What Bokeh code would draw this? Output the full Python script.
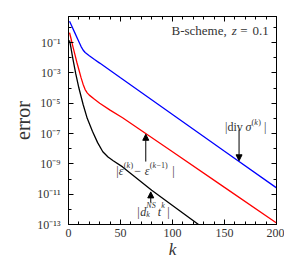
from bokeh.plotting import figure
from bokeh.models import (Label, Arrow, NormalHead, FixedTicker, LogAxis, LinearAxis,
                          CustomJSTickFormatter, Range1d)
from bokeh.embed import file_html
from bokeh.resources import INLINE

# ---- data ----
k_blue = [1, 3, 6, 9, 12, 14, 16, 20, 25, 30, 50, 100, 150, 200]
err_blue = [2.5e0, 1.26e0, 4.5e-1, 1.6e-1, 5.6e-2, 3.2e-2, 2.2e-2, 1.35e-2,
            7.6e-3, 4.4e-3, 4.7e-4, 1.8e-6, 6.8e-9, 2.6e-11]

k_red = [1, 2, 4, 6, 8, 10, 12, 14, 16, 18, 20, 25, 30, 40, 52, 100, 150, 200]
err_red = [4.5e-1, 2.4e-1, 6.3e-2, 1.8e-2, 5.0e-3, 1.6e-3, 5.0e-4, 1.8e-4, 7.9e-5,
           4.8e-5, 3.4e-5, 1.8e-5, 1.0e-5, 3.5e-6, 1.1e-6, 6.3e-9, 2.8e-11, 1.26e-13]

k_black = [1, 2, 4, 7, 10, 14, 18, 23, 28, 33, 38, 43, 52, 80, 100, 126]
err_black = [1.4e-1, 6.3e-2, 1.0e-2, 8.5e-4, 1.0e-4, 8.5e-6, 1.0e-6, 1.4e-7, 2.5e-8,
             6.3e-9, 2.8e-9, 1.6e-9, 6.3e-10, 1.8e-11, 1.8e-12, 8.9e-14]

x_major = [0, 50, 100, 150, 200]
x_minor = [10, 20, 30, 40, 60, 70, 80, 90, 110, 120, 130, 140, 160, 170, 180, 190]
y_major = [1e-1, 1e-3, 1e-5, 1e-7, 1e-9, 1e-11, 1e-13]
y_minor = [1e0, 1e-2, 1e-4, 1e-6, 1e-8, 1e-10, 1e-12]

FONT = "Liberation Serif"
TXT = "#333333"

p = figure(frame_width=208, frame_height=208, y_axis_type="log",
           x_range=Range1d(0, 200), y_range=Range1d(1e-13, 5.2),
           output_backend="svg", toolbar_location=None,
           min_border_left=68, min_border_right=8, min_border_top=16, min_border_bottom=38)
p.grid.visible = False
p.outline_line_color = "black"
p.outline_line_width = 1
p.background_fill_color = "white"
p.border_fill_color = "white"

p.line(k_blue, err_blue, line_color="#0000ff", line_width=1.3)
p.line(k_red, err_red, line_color="#ff0000", line_width=1.3)
p.line(k_black, err_black, line_color="black", line_width=1.3)

xt = FixedTicker(ticks=x_major, minor_ticks=x_minor)
yt = FixedTicker(ticks=y_major, minor_ticks=y_minor)

fmt_code = """
const e = Math.round(Math.log10(tick));
const m = {'-':'\\u207b','0':'\\u2070','1':'\\u00b9','2':'\\u00b2','3':'\\u00b3','4':'\\u2074',
           '5':'\\u2075','6':'\\u2076','7':'\\u2077','8':'\\u2078','9':'\\u2079'};
return '10' + String(e).split('').map(c => m[c]).join('');
"""


def style(ax):
    ax.axis_line_color = "black"
    ax.major_tick_in = 5
    ax.major_tick_out = 0
    ax.minor_tick_in = 3
    ax.minor_tick_out = 0
    ax.major_tick_line_color = "black"
    ax.minor_tick_line_color = "black"
    ax.major_label_text_font = FONT
    ax.major_label_text_font_size = "12px"
    ax.major_label_text_color = TXT
    ax.axis_label_text_font = FONT
    ax.axis_label_text_color = TXT
    ax.axis_label_text_font_style = "normal"


xa = p.xaxis[0]
xa.ticker = xt
style(xa)
xa.major_label_standoff = 4
xa.axis_label = "k"
xa.axis_label_text_font_size = "17px"
xa.axis_label_text_font_style = "italic"
xa.axis_label_standoff = 0

ya = p.yaxis[0]
ya.ticker = yt
style(ya)
ya.formatter = CustomJSTickFormatter(code=fmt_code)
ya.major_label_standoff = 8
ya.axis_label = "error"
ya.axis_label_text_font_size = "20px"
ya.axis_label_standoff = 0


def bare(ax):
    style(ax)
    ax.major_label_text_font_size = "0px"
    ax.major_label_standoff = 0
    ax.axis_label_standoff = 0


top = LinearAxis(ticker=xt, formatter=CustomJSTickFormatter(code="return '';"))
bare(top)
right = LogAxis(ticker=yt, formatter=CustomJSTickFormatter(code="return '';"))
bare(right)
p.add_layout(top, "above")
p.add_layout(right, "right")


def piece(x, y, text, dx=0, dy=0, size=12, italic=False, align="left"):
    p.add_layout(Label(x=x, y=y, x_offset=dx, y_offset=dy, text=text, text_font=FONT,
                       text_font_size=f"{size}px",
                       text_font_style="italic" if italic else "normal",
                       text_color=TXT, text_align=align, text_baseline="alphabetic"))


# title-like annotation "B-scheme, z = 0.1"
ty = 10 ** -0.21
piece(192.5, ty, "0.1", size=13, align="right")
piece(192.5, ty, "=", dx=-21, size=13, align="right")
piece(192.5, ty, "z", dx=-32, size=13, italic=True, align="right")
piece(192.5, ty, "B-scheme,", dx=-42, size=13, align="right")

# |div sigma^(k)|
x1, y1 = 150.5, 10 ** -6.6
piece(x1, y1, "|div")
piece(x1, y1, "σ", dx=20.5, italic=True)
piece(x1, y1, "(", dx=26.5, dy=5, size=8)
piece(x1, y1, "k", dx=29.2, dy=5, size=8, italic=True)
piece(x1, y1, ")", dx=33.2, dy=5, size=8)
piece(x1, y1, "|", dx=39)

# |eps^(k) - eps^(k-1)|
x2, y2 = 46.0, 10 ** -9.45
piece(x2, y2, "|")
piece(x2, y2, "ε", dx=2.5, italic=True)
piece(x2, y2, "(", dx=7.5, dy=5, size=8)
piece(x2, y2, "k", dx=10.2, dy=5, size=8, italic=True)
piece(x2, y2, ")", dx=14.2, dy=5, size=8)
piece(x2, y2, "−", dx=18)
piece(x2, y2, "ε", dx=28.5, italic=True)
piece(x2, y2, "(", dx=33.5, dy=5, size=8)
piece(x2, y2, "k", dx=36.2, dy=5, size=8, italic=True)
piece(x2, y2, "−1)", dx=40.2, dy=5, size=8)
piece(x2, y2, "|", dx=56)

# |d_k^NS t^k|
x3, y3 = 66.0, 10 ** -12.15
piece(x3, y3, "|")
piece(x3, y3, "d", dx=3.2, italic=True)
piece(x3, y3, "k", dx=9.2, dy=-3, size=8, italic=True)
piece(x3, y3, "NS", dx=9.2, dy=6, size=8, italic=True)
piece(x3, y3, "t", dx=20.5, italic=True)
piece(x3, y3, "k", dx=24, dy=6, size=8, italic=True)
piece(x3, y3, "|", dx=30)

# arrows
head = dict(size=6, fill_color="black", line_color="black")
p.add_layout(Arrow(x_start=164, y_start=10 ** -6.75, x_end=164, y_end=10 ** -8.8,
                   line_color="black", line_width=1, end=NormalHead(**head)))
p.add_layout(Arrow(x_start=74.3, y_start=10 ** -8.85, x_end=74.3, y_end=10 ** -7.05,
                   line_color="black", line_width=1, end=NormalHead(**head)))
p.add_layout(Arrow(x_start=79.1, y_start=10 ** -11.55, x_end=79.1, y_end=10 ** -10.85,
                   line_color="black", line_width=1, end=NormalHead(**head)))

open("out.html", "w").write(file_html(p, INLINE))
